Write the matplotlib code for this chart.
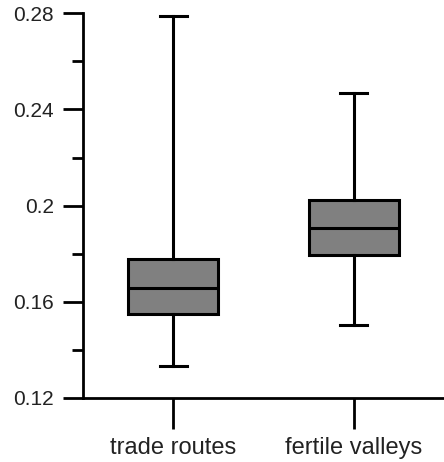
import matplotlib
matplotlib.use("Agg")
import matplotlib.pyplot as plt
from matplotlib.ticker import MultipleLocator

# Data
categories = ["trade routes", "fertile valleys"]
whisker_low = [0.1334, 0.1501]
q1 = [0.1550, 0.1796]
median = [0.1658, 0.1907]
q3 = [0.1779, 0.2025]
whisker_high = [0.2790, 0.2467]
y_ticks = [0.12, 0.16, 0.2, 0.24, 0.28]
y_labels = ["0.12", "0.16", "0.2", "0.24", "0.28"]

plt.rcParams['font.family'] = ['Liberation Sans', 'DejaVu Sans']

fig = plt.figure(figsize=(4.44, 4.62), dpi=100)
ax = fig.add_axes([0.187, 0.139, 0.813, 0.832])

stats = []
for i in range(len(categories)):
    stats.append({
        "label": categories[i],
        "whislo": whisker_low[i],
        "q1": q1[i],
        "med": median[i],
        "q3": q3[i],
        "whishi": whisker_high[i],
        "fliers": [],
    })

ax.bxp(stats, positions=[1, 2], widths=0.5, capwidths=0.15,
       patch_artist=True, showfliers=False,
       boxprops=dict(facecolor="#808080", edgecolor="black", linewidth=2.2),
       medianprops=dict(color="black", linewidth=2.2),
       whiskerprops=dict(color="black", linewidth=2.2),
       capprops=dict(color="black", linewidth=2.2))

ax.set_xlim(0.5, 2.5)
ax.set_ylim(0.12, 0.28)
ax.set_yticks(y_ticks)
ax.set_yticklabels(y_labels)
ax.yaxis.set_minor_locator(MultipleLocator(0.02))
ax.set_xticks([1, 2])
ax.set_xticklabels(categories)

ax.spines['top'].set_visible(False)
ax.spines['right'].set_visible(False)
ax.spines['left'].set_linewidth(2)
ax.spines['bottom'].set_linewidth(2)

ax.tick_params(axis='y', which='major', direction='out', length=14.5, width=2,
               labelsize=15, pad=6.5, labelcolor='#222222')
ax.tick_params(axis='y', which='minor', direction='out', length=8, width=2)
ax.tick_params(axis='x', which='major', direction='out', length=22, width=2,
               labelsize=17, pad=6, labelcolor='#222222')

fig.savefig("out.png", dpi=100)
